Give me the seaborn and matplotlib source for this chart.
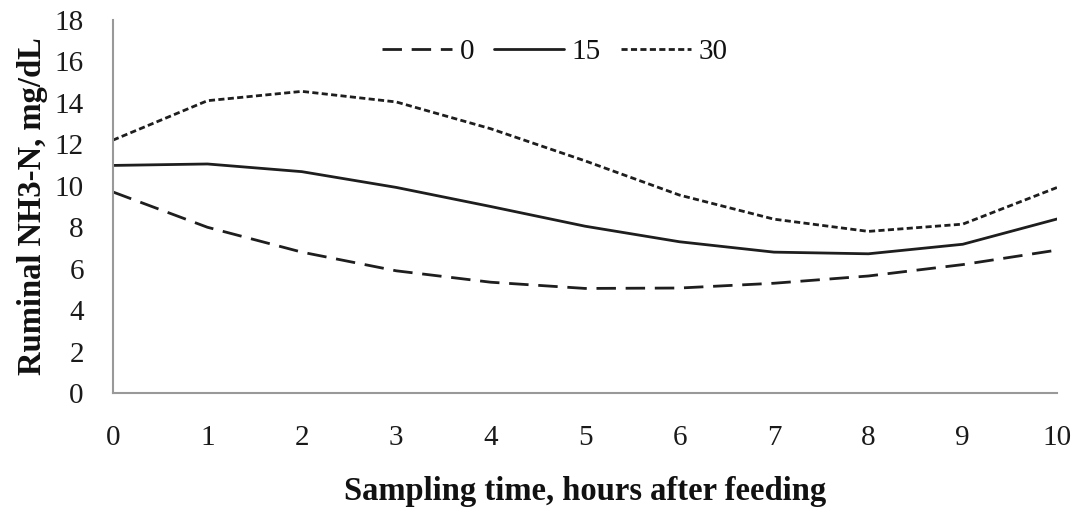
import matplotlib
matplotlib.use("Agg")
import matplotlib.pyplot as plt
import seaborn as sns
import pandas as pd

hours = [0, 1, 2, 3, 4, 5, 6, 7, 8, 9, 10]
series_names = ["0", "15", "30"]
vals_0 = [9.7, 8.0, 6.8, 5.9, 5.35, 5.05, 5.07, 5.3, 5.65, 6.2, 6.9]
vals_15 = [10.98, 11.05, 10.68, 9.92, 9.0, 8.05, 7.3, 6.8, 6.72, 7.18, 8.4]
vals_30 = [12.2, 14.1, 14.55, 14.04, 12.75, 11.2, 9.55, 8.39, 7.8, 8.15, 9.92]

df = pd.concat([
    pd.DataFrame({"hour": hours, "value": v, "level": n})
    for n, v in zip(series_names, [vals_0, vals_15, vals_30])
])

sns.set_theme(style="white")
plt.rcParams["font.family"] = ["Liberation Serif", "DejaVu Serif"]

fig = plt.figure(figsize=(10.81, 5.08), dpi=100)
ax = fig.add_axes([0.1045, 0.226, 0.8735, 0.735])

line_color = "#1e1e1e"
sns.lineplot(
    data=df, x="hour", y="value", hue="level", style="level",
    hue_order=series_names, style_order=series_names,
    palette={n: line_color for n in series_names},
    dashes={"0": (7, 3.5), "15": "", "30": (2.2, 1.2)},
    linewidth=2.0, ax=ax, legend=True,
)

ax.set_xlim(0, 10)
ax.set_ylim(0, 18)
ax.set_xticks(range(0, 11))
ax.set_yticks(range(0, 19, 2))
ax.tick_params(axis="both", labelsize=21, colors="#1a1a1a", length=6,
               width=1.2, direction="out")
ax.tick_params(axis="x", color="#999999", pad=17)
ax.tick_params(axis="y", color="#999999", pad=15)
for side in ["top", "right"]:
    ax.spines[side].set_visible(False)
for side in ["left", "bottom"]:
    ax.spines[side].set_color("#999999")
    ax.spines[side].set_linewidth(1.5)

ax.set_xlabel("Sampling time, hours after feeding", fontsize=23.5,
              fontweight="bold", color="#111111", labelpad=18)
ax.set_ylabel("Ruminal NH3-N, mg/dL", fontsize=23.5, fontweight="bold",
              color="#111111", labelpad=5)

leg = ax.legend(loc="upper center", bbox_to_anchor=(0.468, 1.02), ncol=3,
                frameon=False, fontsize=21, handlelength=2.4,
                columnspacing=0.7, handletextpad=0.25)
for t in leg.get_texts():
    t.set_color("#111111")

fig.savefig("out.png", dpi=100)
